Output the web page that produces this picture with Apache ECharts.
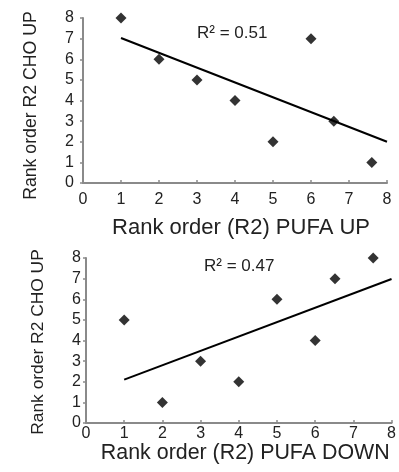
<!DOCTYPE html>
<html><head><meta charset="utf-8">
<script src="https://cdn.jsdelivr.net/npm/echarts@6/dist/echarts.min.js"></script>
<style>html,body{margin:0;padding:0;background:#fff}#c{width:399px;height:472px}</style>
</head><body><div id="c"></div>
<script>
// Top panel: PUFA UP vs CHO UP
const topX = [1, 2, 3, 4, 5, 6, 6.6, 7.6];
const topY = [8, 6, 5, 4, 2, 7, 3, 1];
const topTrend = [[1, 7.03], [8, 2.0]];
const topR2 = 'R² = 0.51';
// Bottom panel: PUFA DOWN vs CHO UP
const botX = [1, 2, 3, 4, 5, 6, 6.52, 7.52];
const botY = [5, 1, 3, 2, 6, 4, 7, 8];
const botTrend = [[1, 2.1], [8, 6.98]];
const botR2 = 'R² = 0.47';
const xTitles = ['Rank order (R2) PUFA UP', 'Rank order (R2) PUFA DOWN'];
const yTitle = 'Rank order R2 CHO UP';

const FONT = 'Liberation Sans, Arial, sans-serif';
const axisCol = '#8a8a8a';
const txt = '#222';

function xAxis(i, gap, margin, pad, fs) {
  return {
    gridIndex: i, type: 'value', min: 0, max: 8, interval: 1,
    name: xTitles[i], nameLocation: 'middle', nameGap: gap,
    nameTextStyle: { fontSize: fs, color: txt, fontFamily: FONT, padding: [0, 0, 0, pad] },
    axisLine: { show: true, lineStyle: { color: axisCol, width: 2 } },
    axisTick: { show: true, inside: true, length: 3, lineStyle: { color: axisCol, width: 1.5 } },
    axisLabel: { fontSize: 16, color: txt, fontFamily: FONT, margin: margin },
    splitLine: { show: false }
  };
}
function yAxis(i, gap, margin, fs, pad) {
  return {
    gridIndex: i, type: 'value', min: 0, max: 8, interval: 1,
    name: yTitle, nameLocation: 'middle', nameGap: gap, nameRotate: 90,
    nameTextStyle: { fontSize: fs, color: txt, fontFamily: FONT, padding: [0, pad, 0, 0] },
    axisLine: { show: true, lineStyle: { color: axisCol, width: 2 } },
    axisTick: { show: true, length: 3, lineStyle: { color: axisCol, width: 1.5 } },
    axisLabel: { fontSize: 16, color: txt, fontFamily: FONT, margin: margin },
    splitLine: { show: false }
  };
}
const chart = echarts.init(document.getElementById('c'));
chart.setOption({
  animation: false,
  grid: [
    { left: 83, right: 12, top: 18, bottom: 289 },
    { left: 86, right: 6, top: 258, bottom: 49 }
  ],
  xAxis: [xAxis(0, 34, 9, 12, 22), xAxis(1, 17, 3, 13, 21.4)],
  yAxis: [yAxis(0, 43, 9, 17.7, 10), yAxis(1, 39, 5, 17.4, 3)],
  graphic: [
    { type: 'text', left: 197, top: 25, style: { text: topR2, fontSize: 17, fill: txt, fontFamily: FONT } },
    { type: 'text', left: 204, top: 258, style: { text: botR2, fontSize: 17, fill: txt, fontFamily: FONT } }
  ],
  series: [
    { type: 'line', xAxisIndex: 0, yAxisIndex: 0, data: topTrend, symbol: 'none',
      lineStyle: { color: '#000', width: 2 } },
    { type: 'scatter', xAxisIndex: 0, yAxisIndex: 0, data: topX.map((x, i) => [x, topY[i]]),
      symbol: 'diamond', symbolSize: 11, itemStyle: { color: '#000' } },
    { type: 'line', xAxisIndex: 1, yAxisIndex: 1, data: botTrend, symbol: 'none',
      lineStyle: { color: '#000', width: 2 } },
    { type: 'scatter', xAxisIndex: 1, yAxisIndex: 1, data: botX.map((x, i) => [x, botY[i]]),
      symbol: 'diamond', symbolSize: 11, itemStyle: { color: '#000' } }
  ]
});
</script></body></html>
